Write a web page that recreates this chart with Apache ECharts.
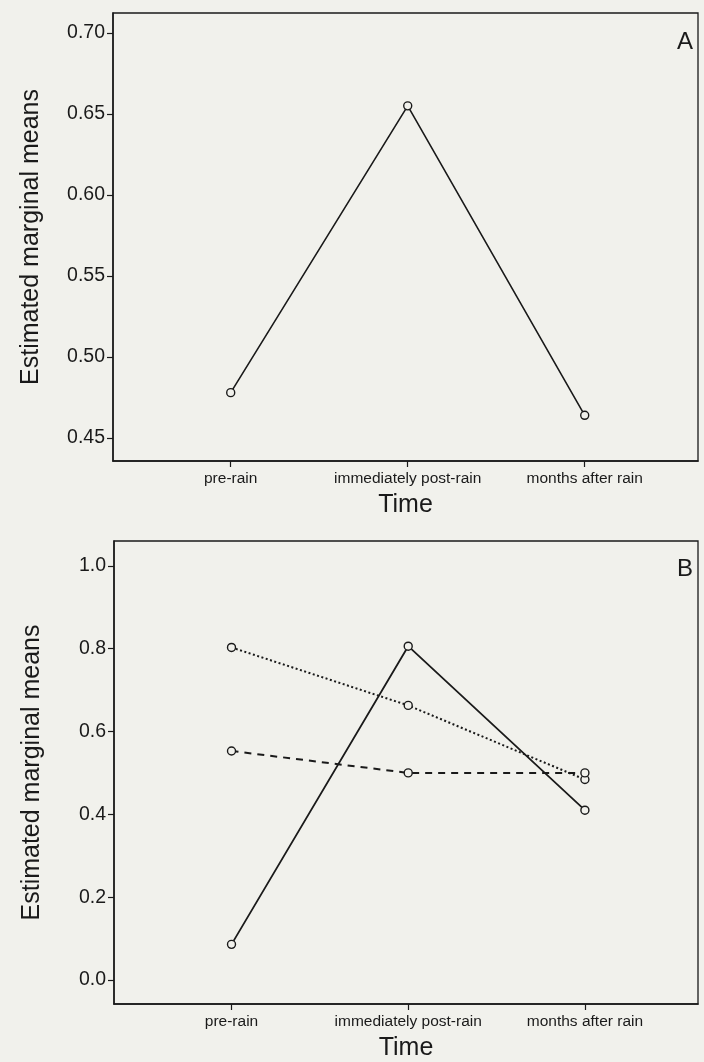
<!DOCTYPE html>
<html>
<head>
<meta charset="utf-8">
<script src="https://cdn.jsdelivr.net/npm/echarts@6/dist/echarts.min.js"></script>
<style>
html,body{margin:0;padding:0;background:#f1f1ec;}
#c{width:704px;height:1062px;}
</style>
</head>
<body>
<div id="c"></div>
<script>
// Data
const categories = ['pre-rain', 'immediately post-rain', 'months after rain'];
const panelA = [0.478, 0.655, 0.464];
const panelBSolid = [0.086, 0.806, 0.410];
const panelBDotted = [0.803, 0.663, 0.484];
const panelBDashed = [0.553, 0.500, 0.500];
const ticksA = [0.45, 0.50, 0.55, 0.60, 0.65, 0.70];
const ticksB = [0.0, 0.2, 0.4, 0.6, 0.8, 1.0];
const catIdx = [0, 1, 2];

const ink = '#1a1a1a';
const bg = '#f1f1ec';
const font = "'Liberation Sans', Arial, sans-serif";

function toPts(arr){ return arr.map((v,i)=>[catIdx[i], v]); }

function xAxis(gi){
  return {
    type:'value', gridIndex:gi, min:-0.665, max:2.64,
    splitLine:{show:false},
    axisLine:{show:true, onZero:false, lineStyle:{color:ink, width:1.5}},
    axisTick:{show:true, customValues:catIdx, length:6, lineStyle:{color:ink, width:1.2}},
    axisLabel:{customValues:catIdx, formatter:v=>categories[Math.round(v)], color:ink,
      fontFamily:font, fontSize:15.5, margin:10},
    name:'Time', nameLocation:'middle', nameGap:32,
    nameTextStyle:{color:ink, fontFamily:font, fontSize:25}
  };
}
function yAxis(gi, mn, mx, ticks, dec){
  return {
    type:'value', gridIndex:gi, min:mn, max:mx,
    splitLine:{show:false},
    axisLine:{show:true, onZero:false, lineStyle:{color:ink, width:1.5}},
    axisTick:{show:true, customValues:ticks, length:6, lineStyle:{color:ink, width:1.2}},
    axisLabel:{customValues:ticks, formatter:v=>v.toFixed(dec), color:ink,
      fontFamily:font, fontSize:19.5, margin:8},
    name:'Estimated marginal means', nameLocation:'middle', nameGap:69,
    nameTextStyle:{color:ink, fontFamily:font, fontSize:25}
  };
}
function series(gi, data, type, w){
  return {
    type:'line', xAxisIndex:gi, yAxisIndex:gi, data:toPts(data),
    symbol:'circle', symbolSize:8, showSymbol:true,
    itemStyle:{color:bg, borderColor:ink, borderWidth:1.4},
    lineStyle:{color:ink, width:w, type:type},
    animation:false, z:3
  };
}

const chart = echarts.init(document.getElementById('c'), null, {renderer:'canvas'});
chart.setOption({
  backgroundColor:bg,
  animation:false,
  grid:[
    {left:113, top:13, right:6, bottom:601, show:true, borderColor:ink, borderWidth:1.3, backgroundColor:'transparent'},
    {left:114, top:541, right:6, bottom:57, show:true, borderColor:ink, borderWidth:1.3, backgroundColor:'transparent'}
  ],
  xAxis:[xAxis(0), xAxis(1)],
  yAxis:[yAxis(0, 0.4358, 0.7123, ticksA, 2), yAxis(1, -0.058, 1.06, ticksB, 1)],
  graphic:[
    {type:'text', right:11, top:30, style:{text:'A', fontFamily:font, fontSize:24, fill:ink}},
    {type:'text', right:11, top:557, style:{text:'B', fontFamily:font, fontSize:24, fill:ink}}
  ],
  series:[
    series(0, panelA, 'solid', 1.6),
    series(1, panelBSolid, 'solid', 1.8),
    series(1, panelBDotted, [2,2.5], 2),
    series(1, panelBDashed, [7,6], 2)
  ]
});
</script>
</body>
</html>
